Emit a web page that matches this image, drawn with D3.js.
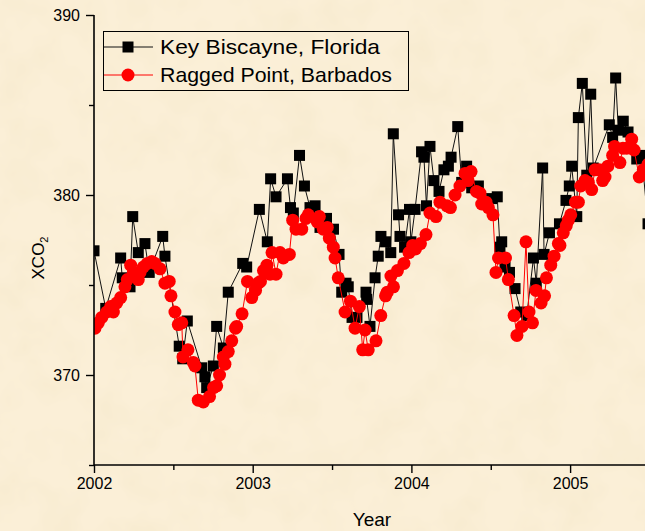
<!DOCTYPE html>
<html>
<head>
<meta charset="utf-8">
<script src="https://cdn.jsdelivr.net/npm/d3@7"></script>
<style>
  html, body { margin: 0; padding: 0; background: #f9edd3; }
  svg { display: block; }
  text { font-family: "Liberation Sans", Arial, sans-serif; fill: #000; }
</style>
</head>
<body>
<svg id="chart" width="645" height="531"></svg>
<script>
// Key Biscayne, Florida — decimal year and XCO2 (ppm)
const keyYear = [2002.000,2002.074,2002.168,2002.178,2002.227,2002.244,2002.279,2002.321,2002.348,2002.433,
  2002.447,2002.537,2002.559,2002.588,2002.679,2002.699,2002.710,2002.752,2002.773,2002.815,
  2002.846,2002.937,2002.962,2003.042,2003.092,2003.113,2003.147,2003.219,2003.238,2003.256,
  2003.295,2003.326,2003.361,2003.393,2003.424,2003.465,2003.509,2003.544,2003.561,2003.588,
  2003.602,2003.626,2003.657,2003.714,2003.718,2003.739,2003.771,2003.791,2003.808,2003.837,
  2003.870,2003.886,2003.919,2003.928,2003.957,2003.988,2003.997,2004.023,2004.064,2004.079,
  2004.095,2004.117,2004.142,2004.174,2004.205,2004.233,2004.250,2004.292,2004.317,2004.348,
  2004.380,2004.422,2004.506,2004.541,2004.558,2004.569,2004.590,2004.618,2004.653,2004.689,
  2004.727,2004.769,2004.787,2004.827,2004.836,2004.870,2004.933,2004.974,2004.995,2005.010,
  2005.042,2005.052,2005.077,2005.105,2005.130,2005.146,2005.247,2005.268,2005.287,2005.304,
  2005.335,2005.365,2005.420,2005.451,2005.491];
const keyCO2 = [376.9,373.7,376.5,375.4,374.9,378.8,376.8,377.3,375.7,377.7,
  376.6,371.6,370.9,373.0,370.4,369.9,369.3,370.5,372.7,371.5,
  374.6,376.2,376.0,379.2,377.4,380.9,379.9,380.9,379.3,379.0,
  382.2,380.5,379.3,379.4,378.2,378.7,378.1,376.7,374.6,375.1,
  374.9,373.2,373.2,374.6,374.2,372.7,375.4,376.6,377.7,377.4,
  376.8,383.4,378.9,377.7,377.1,379.2,377.4,379.2,382.4,382.1,
  379.4,382.7,380.8,380.2,381.4,381.6,382.1,383.8,380.7,381.6,
  380.4,380.5,379.8,379.9,377.1,377.4,376.0,375.7,374.8,373.5,
  373.3,376.5,375.1,381.5,376.7,377.9,378.4,379.7,380.5,381.6,
  378.8,384.3,386.2,381.1,385.6,381.5,383.9,383.2,386.5,383.6,
  384.1,383.5,382.0,382.2,378.4];

// Ragged Point, Barbados — decimal year and XCO2 (ppm)
const barYear = [2002.006,2002.027,2002.049,2002.080,2002.105,2002.122,2002.143,2002.168,2002.195,2002.210,
  2002.231,2002.248,2002.279,2002.290,2002.311,2002.336,2002.364,2002.384,2002.416,2002.447,
  2002.474,2002.485,2002.510,2002.531,2002.553,2002.561,2002.592,2002.626,2002.636,2002.657,
  2002.689,2002.728,2002.753,2002.773,2002.791,2002.815,2002.825,2002.846,2002.868,2002.892,
  2002.899,2002.933,2002.967,2002.994,2003.018,2003.035,2003.049,2003.068,2003.090,2003.109,
  2003.122,2003.147,2003.172,2003.193,2003.231,2003.252,2003.273,2003.309,2003.336,2003.350,
  2003.407,2003.420,2003.445,2003.470,2003.483,2003.508,2003.519,2003.539,2003.582,2003.616,
  2003.645,2003.672,2003.693,2003.708,2003.728,2003.777,2003.807,2003.837,2003.848,2003.871,
  2003.887,2003.912,2003.953,2003.985,2004.008,2004.026,2004.057,2004.092,2004.117,2004.155,
  2004.180,2004.224,2004.246,2004.275,2004.306,2004.338,2004.357,2004.376,2004.410,2004.432,
  2004.443,2004.470,2004.485,2004.514,2004.533,2004.549,2004.593,2004.611,2004.647,2004.665,
  2004.697,2004.722,2004.741,2004.763,2004.785,2004.817,2004.839,2004.851,2004.878,2004.899,
  2004.926,2004.936,2004.957,2004.976,2004.989,2005.004,2005.034,2005.052,2005.067,2005.094,
  2005.115,2005.136,2005.157,2005.184,2005.205,2005.220,2005.238,2005.268,2005.280,2005.314,
  2005.333,2005.357,2005.388,2005.403,2005.436,2005.461,2005.491];
const barCO2 = [372.6,372.9,373.2,373.5,373.8,373.5,374.0,374.3,374.9,375.3,
  376.1,375.7,375.3,375.7,376.0,376.2,376.3,376.2,375.9,375.1,
  375.2,374.4,373.5,372.8,372.9,371.0,371.4,370.7,370.5,368.6,
  368.5,368.8,369.3,369.4,370.0,371.0,370.6,371.3,371.9,372.6,
  372.7,373.4,375.2,374.3,374.7,375.1,375.2,375.8,376.1,375.6,
  376.8,375.6,376.8,376.5,376.7,378.6,378.1,378.1,378.7,378.9,
  378.5,378.8,378.1,378.2,377.6,377.1,376.5,375.4,373.5,374.1,
  372.6,373.8,371.4,372.5,371.4,371.9,373.3,374.4,374.6,375.5,
  374.9,375.8,376.2,376.8,377.2,377.0,377.3,377.8,379.0,378.8,
  379.6,379.4,379.3,380.0,380.5,381.2,380.8,381.3,380.2,380.1,
  379.5,379.6,379.3,378.9,375.7,376.5,376.5,375.3,373.3,372.2,
  372.7,377.4,373.5,372.9,374.7,374.0,374.4,375.4,376.1,376.6,
  377.3,377.2,377.9,378.3,378.6,378.9,379.6,379.6,380.5,380.8,
  380.7,380.3,381.4,381.4,380.8,381.0,381.6,382.2,382.7,381.8,
  382.6,382.6,383.1,382.5,381.0,381.4,381.7];

const yearTicks = [2002, 2003, 2004, 2005];
const yearMinor = [2002.5, 2003.5, 2004.5, 2005.5];
const co2Ticks = [370, 380, 390];
const co2Minor = [365, 375, 385];
const seriesNames = ["Key Biscayne, Florida", "Ragged Point, Barbados"];

const svg = d3.select("#chart");
const W = 645, H = 531;
const plotLeft = 94, plotTop = 15, plotBottom = 465;

// parchment background
const defs = svg.append("defs");
const f = defs.append("filter").attr("id", "paper")
  .attr("x", 0).attr("y", 0).attr("width", "100%").attr("height", "100%");
f.append("feTurbulence").attr("type", "fractalNoise")
  .attr("baseFrequency", "0.025").attr("numOctaves", 3).attr("seed", 7).attr("result", "n");
f.append("feColorMatrix").attr("in", "n").attr("type", "matrix")
  .attr("values", "0 0 0 0 0.90  0 0 0 0 0.80  0 0 0 0 0.58  1.0 0 0 0 -0.40");
defs.append("clipPath").attr("id", "plotClip")
  .append("rect").attr("x", plotLeft).attr("y", 0).attr("width", W - plotLeft + 20).attr("height", plotBottom);

svg.append("rect").attr("width", W).attr("height", H).attr("fill", "#fbefd7");
svg.append("rect").attr("width", W).attr("height", H).attr("filter", "url(#paper)");

const x = d3.scaleLinear().domain([2002, 2006]).range([plotLeft, plotLeft + 4 * 158.7]);
const y = d3.scaleLinear().domain([365, 390]).range([plotBottom, plotTop]);

const keyData = keyYear.map((t, i) => ({ t, v: keyCO2[i] }));
const barData = barYear.map((t, i) => ({ t, v: barCO2[i] }));

const line = d3.line().x(d => x(d.t)).y(d => y(d.v));
const plot = svg.append("g").attr("clip-path", "url(#plotClip)");

// Key Biscayne series
plot.append("path").datum(keyData).attr("d", line)
  .attr("fill", "none").attr("stroke", "#111").attr("stroke-width", 1);
const sq = 11;
plot.selectAll("rect.key").data(keyData).join("rect").attr("class", "key")
  .attr("x", d => x(d.t) - sq / 2).attr("y", d => y(d.v) - sq / 2)
  .attr("width", sq).attr("height", sq).attr("fill", "#000");

// Ragged Point series
plot.append("path").datum(barData).attr("d", line)
  .attr("fill", "none").attr("stroke", "#ff0000").attr("stroke-width", 1);
plot.selectAll("circle.bar").data(barData).join("circle").attr("class", "bar")
  .attr("cx", d => x(d.t)).attr("cy", d => y(d.v)).attr("r", 6.5).attr("fill", "#ff0000");

// axes
const xAxis = svg.append("g").attr("transform", `translate(0,${plotBottom})`)
  .call(d3.axisBottom(x).tickValues(yearTicks).tickFormat(d3.format("d")).tickSize(8).tickPadding(5));
svg.append("g").attr("transform", `translate(0,${plotBottom})`)
  .call(d3.axisBottom(x).tickValues(yearMinor).tickFormat("").tickSize(5))
  .select(".domain").remove();
const yAxis = svg.append("g").attr("transform", `translate(${plotLeft},0)`)
  .call(d3.axisLeft(y).tickValues(co2Ticks).tickFormat(d3.format("d")).tickSize(8).tickPadding(6));
svg.append("g").attr("transform", `translate(${plotLeft},0)`)
  .call(d3.axisLeft(y).tickValues(co2Minor).tickFormat("").tickSize(5))
  .select(".domain").remove();

svg.selectAll(".domain").attr("stroke", "#000").attr("stroke-width", 1.6);
xAxis.select(".domain").attr("d", `M${plotLeft},0H${W + 10}`);
yAxis.select(".domain").attr("d", `M0,${plotTop}V${plotBottom}`);
svg.selectAll(".tick line").attr("stroke", "#000").attr("stroke-width", 1.4);
svg.selectAll(".tick text").attr("font-size", 16).attr("font-family", "Liberation Sans, Arial, sans-serif");

// axis titles
svg.append("text").attr("x", 372).attr("y", 526).attr("text-anchor", "middle")
  .attr("font-size", 19).text("Year");
const yt = svg.append("text").attr("transform", "translate(44,258) rotate(-90)")
  .attr("text-anchor", "middle").attr("font-size", 17);
yt.append("tspan").text("XCO");
yt.append("tspan").attr("font-size", 11).attr("dy", 4).text("2");

// legend
const lg = svg.append("g");
lg.append("rect").attr("x", 103.5).attr("y", 31.5).attr("width", 305).attr("height", 59)
  .attr("fill", "none").attr("stroke", "#000").attr("stroke-width", 1);
const rows = [47, 75];
const labelWidths = [220, 232];
rows.forEach((ry, i) => {
  lg.append("line").attr("x1", 104).attr("x2", 153).attr("y1", ry).attr("y2", ry)
    .attr("stroke", i === 0 ? "#111" : "#ff0000").attr("stroke-width", 1);
  if (i === 0) {
    lg.append("rect").attr("x", 128 - sq / 2).attr("y", ry - sq / 2)
      .attr("width", sq).attr("height", sq).attr("fill", "#000");
  } else {
    lg.append("circle").attr("cx", 128).attr("cy", ry).attr("r", 6.5).attr("fill", "#ff0000");
  }
  lg.append("text").attr("x", 160).attr("y", ry + 7).attr("font-size", 21)
    .attr("textLength", labelWidths[i]).attr("lengthAdjust", "spacingAndGlyphs")
    .text(seriesNames[i]);
});
</script>
</body>
</html>
